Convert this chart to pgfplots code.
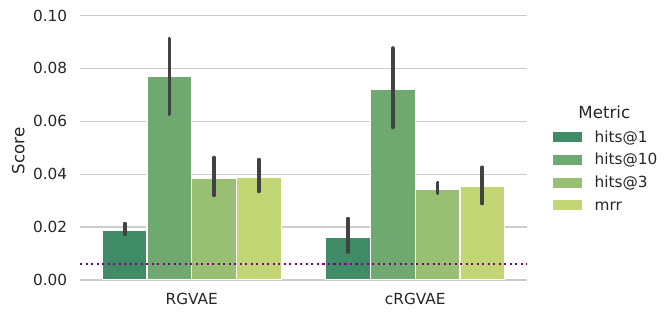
\documentclass[border=0pt]{standalone}
\usepackage{pgfplots}
\usepackage{pgfplotstable}
\pgfplotsset{compat=1.18}
\usepackage{fontspec}
\setmainfont{DejaVu Sans}
\definecolor{cA}{HTML}{408C66}
\definecolor{cB}{HTML}{70A970}
\definecolor{cC}{HTML}{99BF73}
\definecolor{cD}{HTML}{C2D676}
\definecolor{txt}{HTML}{262626}
\definecolor{gridc}{HTML}{CCCCCC}
\definecolor{errc}{HTML}{424242}
\definecolor{mplpurple}{HTML}{800080}

% x = group index + hue offset ; y = mean ; hi/lo = CI ends
\pgfplotstableread{
x y hi lo
-0.3 0.0189 0.0213 0.01735
0.7 0.0161 0.0232 0.01055
}\hitsone
\pgfplotstableread{
x y hi lo
-0.1 0.0771 0.0912 0.0627
0.9 0.0721 0.0877 0.0577
}\hitsten
\pgfplotstableread{
x y hi lo
0.1 0.03855 0.0463 0.0320
1.1 0.0343 0.0368 0.0328
}\hitsthree
\pgfplotstableread{
x y hi lo
0.3 0.0389 0.0455 0.0335
1.3 0.0355 0.0426 0.0289
}\mrr

\pgfplotsset{
  mybar/.style={ybar, bar width=0.2, bar shift=0pt, draw=white, line width=1.2pt,
    error bars/.cd, y dir=both, y explicit, error mark=none,
    error bar style={line width=3.75pt, draw=errc, line cap=round},
    /pgfplots/.cd,
    legend image code/.code={\fill[##1,draw=none] (0pt,-4.3pt) rectangle (28.5pt,5.7pt); \path (41pt,0pt);}
  },
}

\begin{document}
\begin{tikzpicture}
\useasboundingbox (-80pt,-38pt) rectangle (590pt,280pt);
\begin{axis}[
  at={(0pt,0pt)}, anchor=south west,
  scale only axis, width=447pt, height=264.5pt,
  xmin=-0.5, xmax=1.5, ymin=0, ymax=0.1,
  xtick={0,1}, xticklabels={RGVAE,cRGVAE},
  ytick={0,0.02,0.04,0.06,0.08,0.1},
  /pgf/number format/assume math mode=true,
  yticklabel style={/pgf/number format/fixed, /pgf/number format/fixed zerofill, /pgf/number format/precision=2, anchor=east, inner sep=0pt, xshift=-12.7pt},
  xticklabel style={anchor=north, inner sep=0pt, yshift=-13.3pt},
  tick label style={font=\fontsize{15.3}{18}\selectfont, text=txt},
  major tick length=0pt,
  tick style={draw=none},
  axis x line*=bottom, axis y line*=left,
  x axis line style={-, draw=gridc, line width=1.74pt},
  y axis line style={draw=none},
  ymajorgrids, grid style={draw=gridc, line width=1.39pt},
  ylabel={Score},
  every axis y label/.style={at={(axis description cs:-0.138,0.4877)}, rotate=90, anchor=center, inner sep=0pt, font=\fontsize{16.7}{20}\selectfont, text=txt},
  legend cell align=left,
  legend style={at={(1.0582,0.5645)}, anchor=north west, draw=none, fill=none, inner sep=0pt, outer sep=0pt, row sep=8.1pt,
    nodes={inner sep=0pt, text height=11.6pt, text depth=3pt, font=\fontsize{15.3}{18}\selectfont, text=txt}},
]
\addplot[mybar, fill=cA] table[x=x, y=y, y error plus expr=\thisrow{hi}-\thisrow{y}, y error minus expr=\thisrow{y}-\thisrow{lo}] {\hitsone};
\addlegendentry{hits@1}
\addplot[mybar, fill=cB] table[x=x, y=y, y error plus expr=\thisrow{hi}-\thisrow{y}, y error minus expr=\thisrow{y}-\thisrow{lo}] {\hitsten};
\addlegendentry{hits@10}
\addplot[mybar, fill=cC] table[x=x, y=y, y error plus expr=\thisrow{hi}-\thisrow{y}, y error minus expr=\thisrow{y}-\thisrow{lo}] {\hitsthree};
\addlegendentry{hits@3}
\addplot[mybar, fill=cD] table[x=x, y=y, y error plus expr=\thisrow{hi}-\thisrow{y}, y error minus expr=\thisrow{y}-\thisrow{lo}] {\mrr};
\addlegendentry{mrr}
\addplot[forget plot, draw=mplpurple, line width=2.08pt, dash pattern=on 2.08pt off 3.43pt] coordinates {(-0.5,0.006) (1.5,0.006)};
\end{axis}
\node[anchor=base, inner sep=0pt, font=\fontsize{16.7}{20}\selectfont, text=txt] at (524.3pt,161pt) {Metric};
\end{tikzpicture}
\end{document}
